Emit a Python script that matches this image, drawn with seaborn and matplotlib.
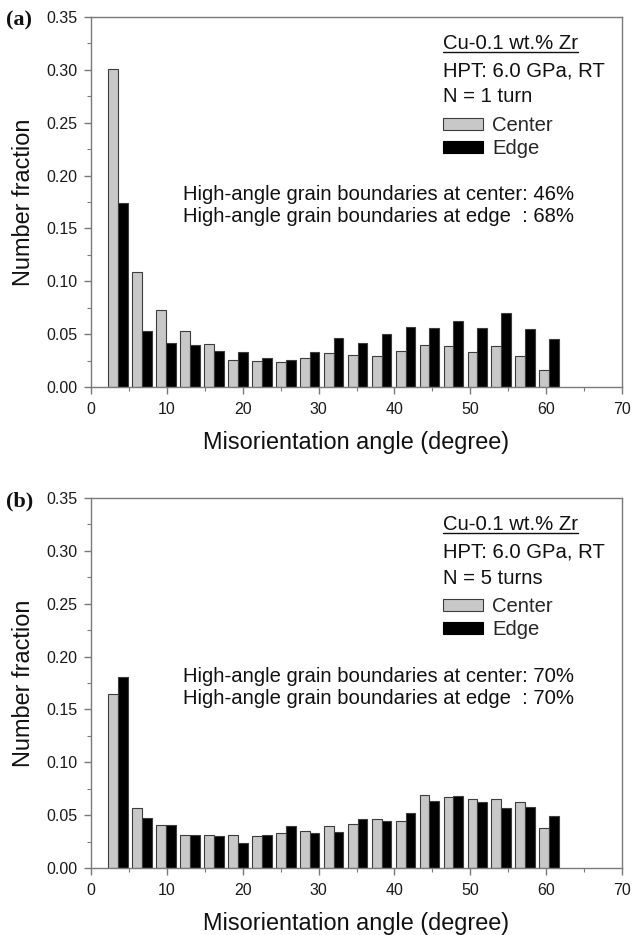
import numpy as np
import pandas as pd
import matplotlib
matplotlib.use('Agg')
import matplotlib.pyplot as plt
import seaborn as sns
from matplotlib.patches import Patch
from matplotlib.lines import Line2D
from matplotlib.ticker import MultipleLocator, FormatStrFormatter

angles = [3.57, 6.73, 9.88, 13.04, 16.20, 19.36, 22.51, 25.67, 28.83, 31.98,
          35.14, 38.30, 41.46, 44.61, 47.77, 50.93, 54.08, 57.24, 60.40]
a_center = [0.301, 0.109, 0.073, 0.053, 0.041, 0.026, 0.025, 0.024, 0.027, 0.032,
            0.030, 0.029, 0.034, 0.040, 0.0385, 0.033, 0.0385, 0.029, 0.016]
a_edge = [0.174, 0.053, 0.042, 0.040, 0.034, 0.033, 0.027, 0.026, 0.033, 0.046,
          0.042, 0.0505, 0.057, 0.056, 0.062, 0.056, 0.070, 0.055, 0.045]
b_center = [0.165, 0.057, 0.041, 0.031, 0.031, 0.031, 0.030, 0.033, 0.035, 0.040,
            0.042, 0.046, 0.044, 0.069, 0.067, 0.065, 0.065, 0.062, 0.038]
b_edge = [0.181, 0.047, 0.041, 0.031, 0.030, 0.024, 0.031, 0.040, 0.0335, 0.0345,
          0.046, 0.044, 0.0525, 0.063, 0.068, 0.062, 0.057, 0.058, 0.049]
series = ['Center', 'Edge']
panel_labels = ['(a)', '(b)']
turns = ['N = 1 turn', 'N = 5 turns']
hagb = [('46%', '68%'), ('70%', '70%')]

sns.set_style('ticks')
plt.rcParams['font.family'] = ['Liberation Sans', 'DejaVu Sans']

W, H = 632, 935
fig = plt.figure(figsize=(W / 100, H / 100), dpi=100)

colors = {'Center': '#c8c8c8', 'Edge': '#000000'}
spine_c = '#7a7a7a'
txt_c = '#111111'


def px_axes(left, top, right, bottom):
    return fig.add_axes([left / W, 1 - bottom / H, (right - left) / W, (bottom - top) / H])


tops = [17, 498]
axes = [px_axes(91, tops[0], 622, 387), px_axes(91, tops[1], 622, 868)]
data = [(a_center, a_edge), (b_center, b_edge)]

underline_texts = []
for k, ax in enumerate(axes):
    c, e = data[k]
    df = pd.DataFrame({'angle': angles * 2,
                       'frac': c + e,
                       'pos': [series[0]] * len(angles) + [series[1]] * len(angles)})
    sns.barplot(data=df, x='angle', y='frac', hue='pos', hue_order=series,
                palette=colors, native_scale=True, width=0.82, dodge=True,
                errorbar=None, saturation=1, edgecolor='#3c3c3c', linewidth=0.8,
                legend=False, ax=ax)
    ax.set_xlim(0, 70)
    ax.set_ylim(0, 0.35)
    ax.xaxis.set_major_locator(MultipleLocator(10))
    ax.xaxis.set_minor_locator(MultipleLocator(5))
    ax.yaxis.set_major_locator(MultipleLocator(0.05))
    ax.yaxis.set_minor_locator(MultipleLocator(0.025))
    ax.yaxis.set_major_formatter(FormatStrFormatter('%.2f'))
    for s in ax.spines.values():
        s.set_visible(True)
        s.set_color(spine_c)
        s.set_linewidth(1.0)
    ax.tick_params(which='both', direction='out', color=spine_c, top=False, right=False,
                   labelsize=11.5, labelcolor='#1a1a1a')
    ax.tick_params(axis='x', which='both', pad=6)
    ax.tick_params(axis='y', which='both', pad=5)
    ax.tick_params(which='major', length=5, width=1.0)
    ax.tick_params(which='minor', length=3, width=0.8)
    ax.set_xlabel('Misorientation angle (degree)', fontsize=16.9, color=txt_c, labelpad=10)
    ax.set_ylabel('Number fraction', fontsize=16.9, color=txt_c, labelpad=8)

    fs = 14.6
    hpx = 370.0

    def yf(off):
        return 1 - off / hpx
    t = ax.text(0.662, yf(27), 'Cu-0.1 wt.% Zr', transform=ax.transAxes, fontsize=fs,
                ha='left', va='center', color=txt_c)
    underline_texts.append(t)
    ax.text(0.662, yf(54), 'HPT: 6.0 GPa, RT', transform=ax.transAxes, fontsize=fs,
            ha='left', va='center', color=txt_c)
    ax.text(0.662, yf(80), turns[k], transform=ax.transAxes, fontsize=fs,
            ha='left', va='center', color=txt_c)
    handles = [Patch(facecolor=colors['Center'], edgecolor='#3c3c3c', linewidth=0.8),
               Patch(facecolor=colors['Edge'], edgecolor='#000000', linewidth=0.8)]
    ax.legend(handles, series, loc='upper left', bbox_to_anchor=(0.662, yf(99)),
              frameon=False, fontsize=fs, handlelength=2.0, handleheight=0.5,
              handletextpad=0.45, labelspacing=0.2, borderpad=0, borderaxespad=0)
    ax.text(0.173, yf(178), 'High-angle grain boundaries at center: ' + hagb[k][0],
            transform=ax.transAxes, fontsize=fs, ha='left', va='center', color=txt_c)
    ax.text(0.173, yf(200), 'High-angle grain boundaries at edge  : ' + hagb[k][1],
            transform=ax.transAxes, fontsize=fs, ha='left', va='center', color=txt_c)

    fig.text(6 / W, 1 - (tops[k] + 3) / H, panel_labels[k], fontsize=16, fontweight='bold',
             family=['Liberation Serif', 'DejaVu Serif'], ha='left', va='center', color=txt_c)

fig.canvas.draw()
inv = fig.transFigure.inverted()
for t in underline_texts:
    bb = t.get_window_extent()
    (x0, y0), (x1, y1) = inv.transform([[bb.x0, bb.y0 + 1.5], [bb.x1, bb.y0 + 1.5]])
    fig.add_artist(Line2D([x0, x1], [y0, y1], transform=fig.transFigure,
                          color=txt_c, linewidth=1.0))

fig.savefig('out.png', dpi=100)
